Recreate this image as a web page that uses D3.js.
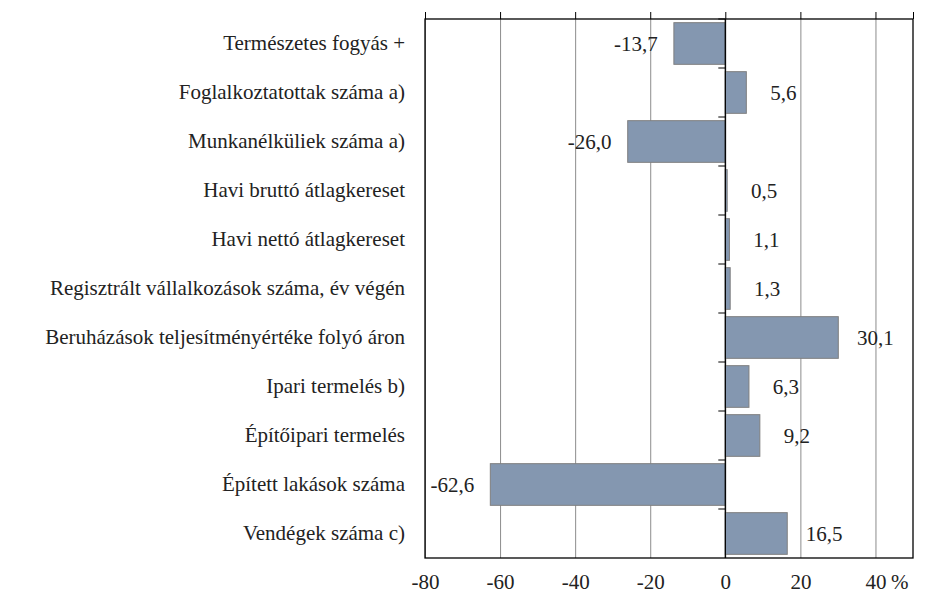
<!DOCTYPE html>
<html>
<head>
<meta charset="utf-8">
<script src="https://d3js.org/d3.v7.min.js"></script>
<style>
  body { margin: 0; background: #fff; }
</style>
</head>
<body>
<svg class="chart"></svg>
<script>
var categories = ["Természetes fogyás +", "Foglalkoztatottak száma a)", "Munkanélküliek száma a)",
  "Havi bruttó átlagkereset", "Havi nettó átlagkereset", "Regisztrált vállalkozások száma, év végén",
  "Beruházások teljesítményértéke folyó áron", "Ipari termelés b)", "Építőipari termelés",
  "Épített lakások száma", "Vendégek száma c)"];
var values = [-13.7, 5.6, -26.0, 0.5, 1.1, 1.3, 30.1, 6.3, 9.2, -62.6, 16.5];
var xTicks = [-80, -60, -40, -20, 0, 20, 40];

var width = 935, height = 596;
var plotLeft = 425, plotRight = 913, plotTop = 19, plotBottom = 558;
var fontSize = 21;
var serif = "Liberation Serif";

var loc = d3.formatLocale({decimal: ",", thousands: " ", grouping: [3], currency: ["", ""], minus: "-"});
var fmt = loc.format(".1f");

var x = d3.scaleLinear().domain([-80, 50]).range([plotLeft, plotRight]);
var y = d3.scaleBand().domain(categories).range([plotTop, plotBottom])
  .paddingInner(0.15).paddingOuter(0.075);

var svg = d3.select(".chart").attr("width", width).attr("height", height)
  .attr("font-family", serif).attr("font-size", fontSize);

function textStyle(sel) {
  sel.attr("font-family", serif).attr("font-size", fontSize).attr("fill", "#222");
}

// gridlines
svg.append("g")
  .attr("transform", "translate(0," + plotBottom + ")")
  .call(d3.axisBottom(x).tickValues(xTicks).tickSize(-(plotBottom - plotTop)).tickFormat(""))
  .call(function(g) { g.select(".domain").remove(); })
  .selectAll("line").attr("stroke", "#8c8c8c");

// ticks above the frame
svg.append("g")
  .attr("transform", "translate(0," + plotTop + ")")
  .call(d3.axisTop(x).tickValues(xTicks.concat([50])).tickSize(7).tickFormat(""))
  .call(function(g) { g.select(".domain").remove(); })
  .selectAll("line").attr("stroke", "#000");

// bottom labels
var xa = svg.append("g")
  .attr("transform", "translate(0," + plotBottom + ")")
  .call(d3.axisBottom(x).tickValues(xTicks).tickSize(0).tickPadding(16).tickFormat(loc.format("d")));
xa.select(".domain").remove();
xa.call(textStyle);
xa.selectAll("text").call(textStyle);

svg.append("text")
  .attr("x", x(46.5)).attr("y", plotBottom + 16).attr("dy", "0.71em")
  .attr("text-anchor", "middle")
  .call(textStyle)
  .text("%");

// bars
svg.selectAll("rect.bar")
  .data(values)
  .enter().append("rect")
  .attr("class", "bar")
  .attr("x", function(d) { return x(Math.min(0, d)); })
  .attr("y", function(d, i) { return y(categories[i]); })
  .attr("width", function(d) { return Math.abs(x(d) - x(0)); })
  .attr("height", y.bandwidth())
  .attr("fill", "#8497b0")
  .attr("stroke", "#7f7f7f")
  .attr("stroke-width", 1);

// frame
svg.append("rect")
  .attr("x", plotLeft).attr("y", plotTop)
  .attr("width", plotRight - plotLeft).attr("height", plotBottom - plotTop)
  .attr("fill", "none").attr("stroke", "#000").attr("stroke-width", 1.3);

// zero axis
svg.append("line")
  .attr("x1", x(0)).attr("x2", x(0)).attr("y1", plotTop).attr("y2", plotBottom)
  .attr("stroke", "#000").attr("stroke-width", 1.3);

var off = y.step() * y.paddingOuter();
svg.selectAll("line.cat")
  .data(categories)
  .enter().append("line")
  .attr("class", "cat")
  .attr("x1", x(0) - 7).attr("x2", x(0))
  .attr("y1", function(d) { return y(d) - off; })
  .attr("y2", function(d) { return y(d) - off; })
  .attr("stroke", "#000");

// category labels
var ya = svg.append("g")
  .attr("transform", "translate(" + plotLeft + ",0)")
  .call(d3.axisLeft(y).tickSize(0).tickPadding(20));
ya.select(".domain").remove();
ya.call(textStyle);
ya.selectAll("text").call(textStyle);

// value labels
svg.selectAll("text.val")
  .data(values)
  .enter().append("text")
  .attr("class", "val")
  .attr("x", function(d) { return d < 0 ? x(d) - 38 : x(d) + 37; })
  .attr("y", function(d, i) { return y(categories[i]) + y.bandwidth() / 2; })
  .attr("dy", "0.35em")
  .attr("text-anchor", "middle")
  .call(textStyle)
  .text(function(d) { return fmt(d); });
</script>
</body>
</html>
